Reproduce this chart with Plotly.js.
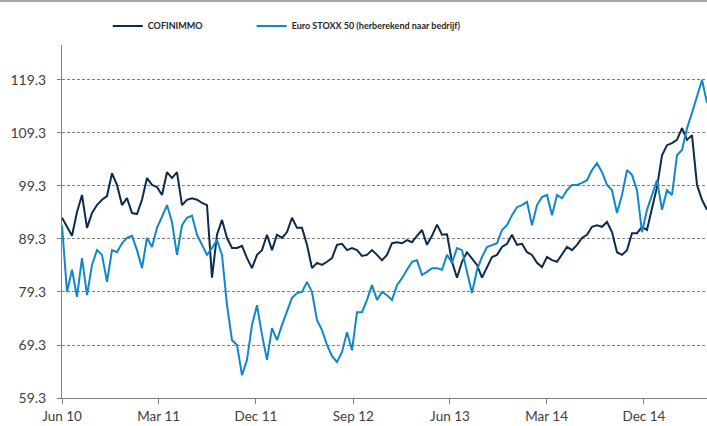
<!DOCTYPE html>
<html>
<head>
<meta charset="utf-8">
<script src="https://cdn.plot.ly/plotly-3.0.1.min.js"></script>
<style>
  html, body { margin: 0; padding: 0; background: #ffffff; }
  #wrap { position: relative; width: 707px; height: 426px; }
  #chart { width: 707px; height: 426px; }
  #topline { position: absolute; left: 0; top: 0; width: 707px; height: 2px; background: #a6a6a6; }
</style>
</head>
<body>
<div id="wrap">
  <div id="chart"></div>
  <div id="topline"></div>
</div>
<script>
// ---- Data (roughly every two weeks) ----
const startDate = '2010-06-01';
const stepDays = 14.125;

const seriesNames = ['COFINIMMO', 'Euro STOXX 50 (herberekend naar bedrijf)'];

const cofinimmo = [
  93.3, 91.6, 89.9, 94.4, 97.6, 91.4, 94.2, 95.7, 96.7, 97.4,
  101.7, 99.5, 95.7, 97.0, 94.2, 94.0, 96.7, 100.8, 99.5, 99.1,
  97.6, 101.9, 100.8, 101.9, 95.7, 96.7, 97.0, 96.7, 96.1, 95.7,
  82.0, 90.1, 92.9, 89.5, 87.6, 87.6, 88.0, 85.7, 83.8, 86.3,
  87.2, 90.1, 87.2, 90.1, 89.5, 90.6, 93.3, 91.4, 91.4, 88.2,
  83.8, 84.8, 84.4, 85.0, 85.7, 88.2, 88.4, 87.2, 87.6, 87.2,
  86.1, 86.3, 87.2, 86.3, 85.3, 86.3, 88.5, 88.7, 88.5, 89.1,
  88.7, 89.9, 91.0, 88.2, 89.9, 92.0, 90.1, 90.2, 85.0, 82.0,
  85.0, 86.8, 85.7, 84.4, 82.0, 83.8, 85.9, 86.3, 87.8, 88.4,
  90.1, 88.2, 88.4, 86.8, 86.3, 84.8, 84.0, 85.9, 85.3, 85.0,
  86.5, 87.8, 87.2, 88.2, 89.5, 90.1, 91.6, 91.9, 91.6, 92.5,
  90.6, 86.8, 86.3, 87.2, 90.4, 90.4, 91.6, 91.0, 95.1, 99.1,
  105.1, 107.0, 107.4, 108.0, 110.2, 108.0, 108.9, 99.5, 96.7, 94.8
];

const euroStoxx = [
  91.9, 79.3, 83.5, 78.4, 85.7, 78.7, 84.4, 87.2, 86.3, 81.2,
  87.2, 86.8, 88.5, 89.5, 89.9, 87.2, 83.8, 89.5, 87.8, 91.4,
  93.5, 95.7, 92.5, 86.3, 91.9, 93.3, 93.7, 90.1, 88.2, 86.3,
  87.6, 89.1, 86.3, 76.8, 70.2, 69.3, 63.6, 66.5, 73.1, 76.8,
  71.2, 66.5, 72.5, 70.2, 73.1, 75.5, 78.2, 79.1, 79.3, 81.2,
  79.3, 74.0, 72.1, 69.3, 67.2, 66.1, 68.0, 71.7, 68.3, 75.5,
  75.5, 77.8, 80.6, 77.8, 79.3, 78.7, 77.8, 80.6, 81.9, 83.5,
  85.0, 85.3, 82.5, 83.1, 83.8, 83.8, 83.5, 86.3, 84.8, 87.6,
  87.2, 83.1, 79.1, 83.5, 85.9, 87.8, 88.2, 88.5, 91.0, 91.9,
  93.8, 95.3, 95.7, 96.3, 91.9, 95.7, 97.2, 97.6, 93.8, 97.6,
  97.0, 98.5, 99.5, 99.5, 99.9, 100.4, 102.3, 103.6, 101.9, 99.5,
  98.5, 94.2, 97.6, 102.3, 101.4, 98.5, 90.6, 94.8, 97.6, 100.4,
  94.8, 98.5, 97.6, 105.1, 106.1, 110.2, 113.1, 116.1, 119.3, 115.0
];

const xTickDates = ['2010-06-01', '2011-03-01', '2011-12-01', '2012-09-01', '2013-06-01', '2014-03-01', '2014-12-01'];
const xTickLabels = ['Jun 10', 'Mar 11', 'Dec 11', 'Sep 12', 'Jun 13', 'Mar 14', 'Dec 14'];
const yTickValues = [59.3, 69.3, 79.3, 89.3, 99.3, 109.3, 119.3];
const yTickLabels = ['59.3', '69.3', '79.3', '89.3', '99.3', '109.3', '119.3'];

// ---- Build the date axis from the sampling grid ----
const DAY = 86400000;
const t0 = Date.parse(startDate + 'T00:00:00Z');
function isoAt(ms) { return new Date(ms).toISOString().replace('T', ' ').replace('Z', ''); }
const dates = cofinimmo.map((_, i) => isoAt(t0 + i * stepDays * DAY));
const xRange = [isoAt(t0), isoAt(t0 + (cofinimmo.length - 1) * stepDays * DAY)];

const tickFont = { family: 'Lato, "Open Sans", sans-serif', size: 13.5, color: '#404040' };
const legendFont = { family: 'Lato, sans-serif', size: 9, color: '#262626', weight: 'bold' };

const traces = [
  {
    type: 'scatter', mode: 'lines', name: seriesNames[0], legend: 'legend',
    x: dates, y: cofinimmo,
    line: { color: '#0c2b4d', width: 2 }
  },
  {
    type: 'scatter', mode: 'lines', name: seriesNames[1], legend: 'legend2',
    x: dates, y: euroStoxx,
    line: { color: '#1187c9', width: 2 }
  }
];

const layout = {
  width: 707, height: 426,
  margin: { l: 62, r: 0, t: 45, b: 28, pad: 0 },
  paper_bgcolor: '#ffffff', plot_bgcolor: '#ffffff',
  showlegend: true,
  legend: {
    orientation: 'h', x: 0.071, xanchor: 'left', y: 1.054, yanchor: 'middle',
    font: legendFont, bgcolor: 'rgba(0,0,0,0)'
  },
  legend2: {
    orientation: 'h', x: 0.294, xanchor: 'left', y: 1.054, yanchor: 'middle',
    font: legendFont, bgcolor: 'rgba(0,0,0,0)'
  },
  xaxis: {
    type: 'date', range: xRange,
    tickmode: 'array', tickvals: xTickDates, ticktext: xTickLabels,
    showgrid: false, zeroline: false,
    showline: true, linecolor: '#808080', linewidth: 1,
    ticks: 'outside', ticklen: 5, tickcolor: '#808080', tickwidth: 1,
    tickfont: tickFont, ticklabelstandoff: 1
  },
  yaxis: {
    range: [59.3, 125.9],
    tickmode: 'array', tickvals: yTickValues, ticktext: yTickLabels,
    showgrid: true, gridcolor: '#7f7f7f', gridwidth: 1, griddash: '3px,2px',
    zeroline: false,
    showline: true, linecolor: '#808080', linewidth: 1,
    ticks: 'outside', ticklen: 4, tickcolor: '#808080', tickwidth: 1,
    tickfont: { family: 'Lato, "Open Sans", sans-serif', size: 14, color: '#404040' },
    ticklabelstandoff: 8
  },
  hovermode: false
};

Plotly.newPlot('chart', traces, layout, { displayModeBar: false, staticPlot: true });
</script>
</body>
</html>
